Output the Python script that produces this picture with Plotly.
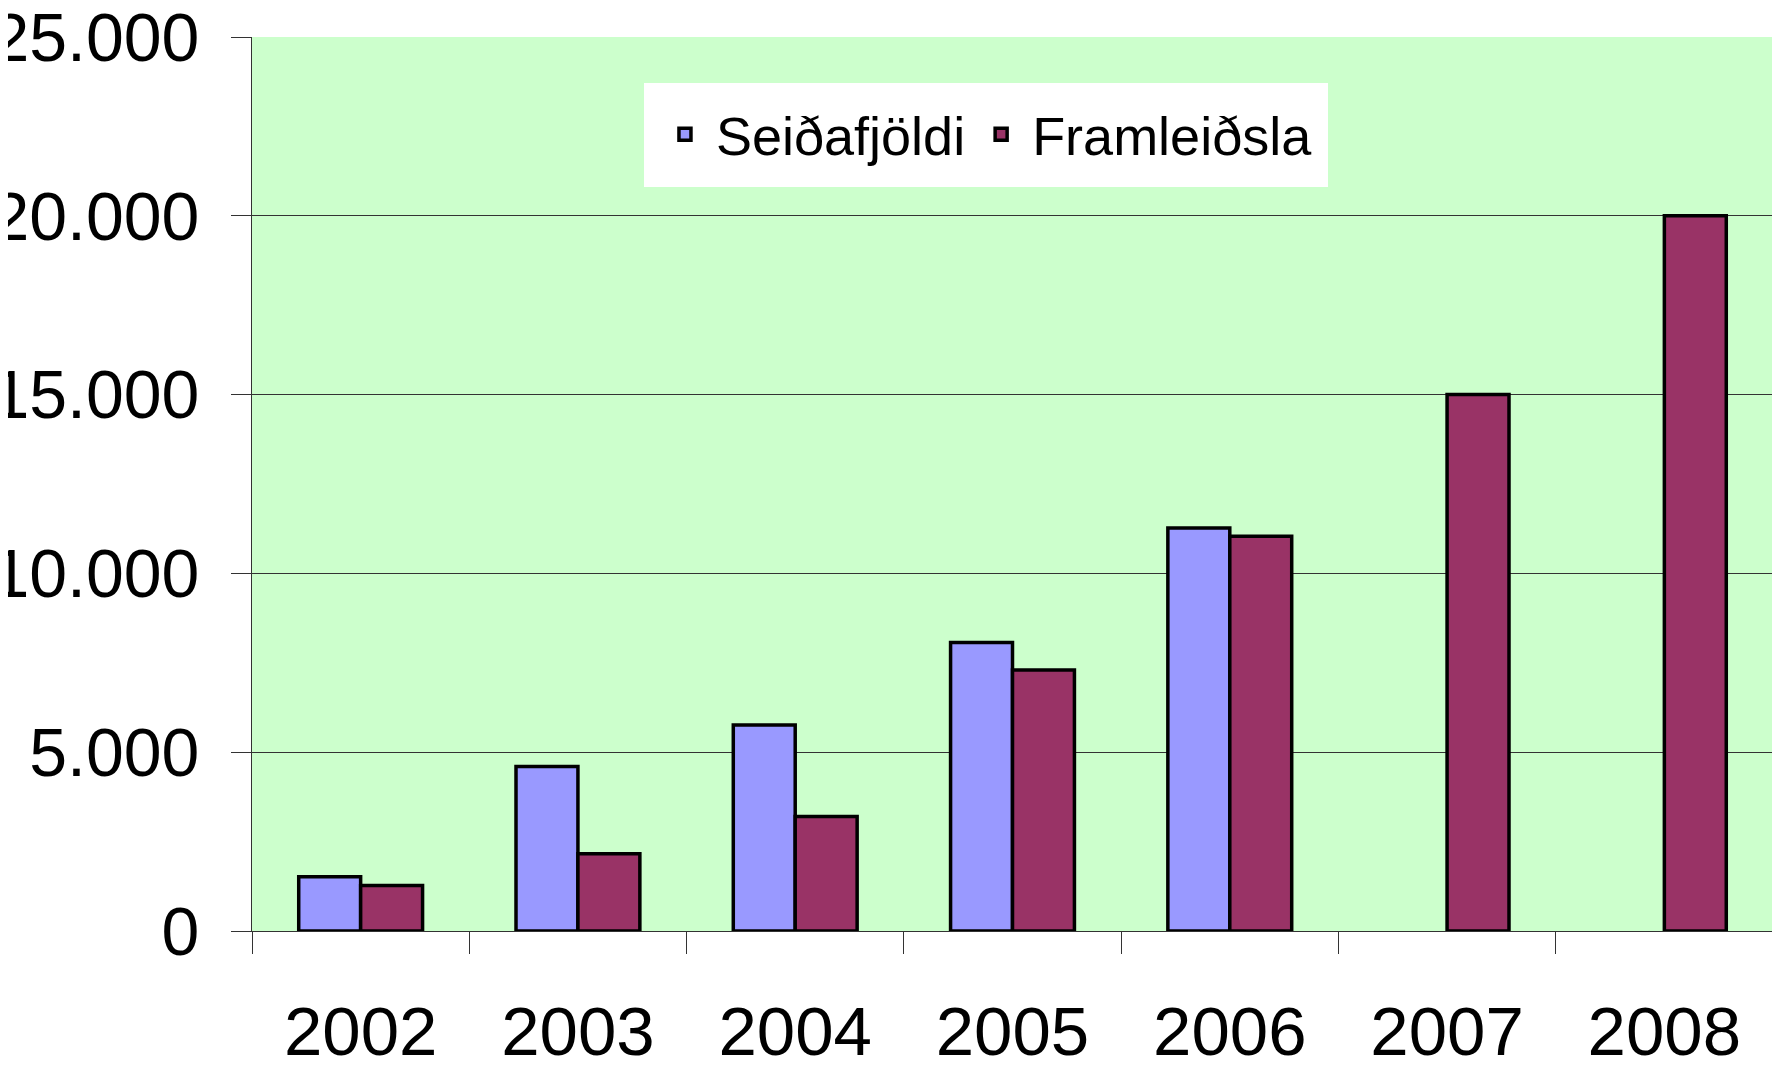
import plotly.graph_objects as go

years = ["2002", "2003", "2004", "2005", "2006", "2007", "2008"]
seidafjoldi = [1520, 4600, 5760, 8070, 11270, None, None]
framleidsla = [1270, 2160, 3200, 7300, 11040, 15000, 20000]
y_ticks = [0, 5000, 10000, 15000, 20000, 25000]

FONT = "Liberation Sans, Arial, sans-serif"

fig = go.Figure()
fig.add_trace(go.Bar(
    name="Seiðafjöldi", x=years, y=seidafjoldi,
    marker=dict(color="#9999FF", line=dict(color="#000000", width=3.5)),
))
fig.add_trace(go.Bar(
    name="Framleiðsla", x=years, y=framleidsla,
    marker=dict(color="#993366", line=dict(color="#000000", width=3.5)),
))

fig.update_layout(
    width=1772, height=1059,
    margin=dict(l=244, r=7, t=29, b=136, pad=0, autoexpand=False),
    paper_bgcolor="#FFFFFF",
    plot_bgcolor="#CCFFCC",
    barmode="group", bargap=0.43, bargroupgap=0,
    separators=",.",
    font=dict(family=FONT, color="#000000"),
    showlegend=True,
    legend=dict(
        orientation="h", x=0.2577, y=0.949, xanchor="left", yanchor="top",
        bgcolor="#FFFFFF", bordercolor="#FFFFFF", borderwidth=10,
        font=dict(size=54, family=FONT, color="#000000"),
        itemwidth=52, traceorder="normal",
    ),
)
fig.update_yaxes(
    range=[0, 25000], tickvals=y_ticks, tickformat=",d",
    showgrid=True, gridcolor="#333333", gridwidth=1,
    showline=True, linecolor="#333333", linewidth=1,
    ticks="outside", ticklen=20, tickcolor="#333333", tickwidth=1,
    tickfont=dict(size=68, family=FONT, color="#000000"),
    ticklabelstandoff=18, ticklabeloverflow="allow",
    automargin=False,
    zeroline=False, fixedrange=True,
)
fig.update_xaxes(
    type="category", tickson="boundaries",
    showline=True, linecolor="#333333", linewidth=1,
    ticks="outside", ticklen=22, tickcolor="#333333", tickwidth=1,
    tickfont=dict(size=69, family=FONT, color="#000000"),
    ticklabelstandoff=40, ticklabeloverflow="allow",
    automargin=False,
    showgrid=False, fixedrange=True,
)

fig.write_html("out.html")
